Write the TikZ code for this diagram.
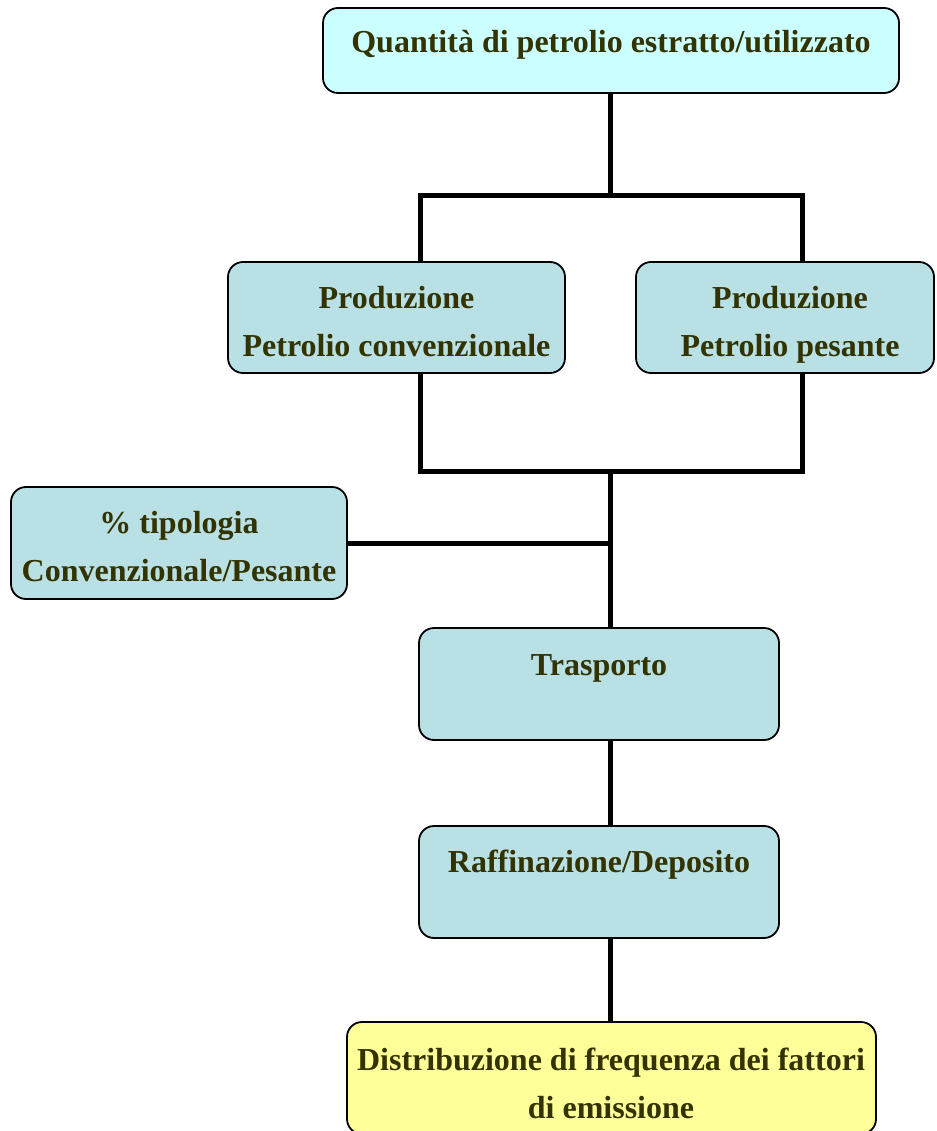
\documentclass[tikz,border=0pt]{standalone}
\usepackage{fontspec}
\setmainfont{Liberation Serif}
\definecolor{txtc}{RGB}{51,51,0}
\definecolor{cyanfill}{RGB}{204,255,255}
\definecolor{bluefill}{RGB}{185,224,228}
\definecolor{yelfill}{RGB}{255,255,153}
\begin{document}
\begin{tikzpicture}[x=1pt,y=1pt,
  box/.style={draw=black, line width=1.8pt, rounded corners=15pt, inner sep=0pt},
  lbl/.style={anchor=base, align=center, text=txtc, font=\fontsize{32}{48}\selectfont\bfseries, inner sep=0pt},
  conn/.style={line width=5pt, line join=miter}]
\useasboundingbox (0,0) rectangle (936,-1131);
\clip (0,0) rectangle (936,-1131);
\fill[white] (0,0) rectangle (936,-1131);
% boxes
\node[box, fill=cyanfill, minimum width=576pt, minimum height=85pt] (top) at (611,-50.5) {};
\node[box, fill=bluefill, minimum width=337pt, minimum height=111pt] (pc) at (396.5,-317.5) {};
\node[box, fill=bluefill, minimum width=298pt, minimum height=111pt] (pp) at (785,-317.5) {};
\node[box, fill=bluefill, minimum width=336pt, minimum height=112pt] (pt) at (179,-543) {};
\node[box, fill=bluefill, minimum width=360pt, minimum height=112pt] (tr) at (599,-684) {};
\node[box, fill=bluefill, minimum width=360pt, minimum height=112pt] (rf) at (599,-882) {};
\node[box, fill=yelfill, minimum width=529pt, minimum height=112pt] (di) at (611.5,-1078) {};
% texts (base anchor = baseline of last line)
\node[lbl] (topt) at (611,-53) {Quantità di petrolio estratto/utilizzato};
\node[lbl] (pct) at (396.5,-356) {Produzione\\Petrolio convenzionale};
\node[lbl] (ppt) at (790,-356) {Produzione\\Petrolio pesante};
\node[lbl] (ptt) at (179,-581) {\% tipologia\\Convenzionale/Pesante};
\node[lbl] (trt) at (599,-675) {Trasporto};
\node[lbl] (rft) at (599,-872) {Raffinazione/Deposito};
\node[lbl] (dit) at (611,-1118) {Distribuzione di frequenza dei fattori\\di emissione};
% junction coordinates
\coordinate (j1) at (610,-195.5);
\coordinate (a1) at (420.5,-195.5);
\coordinate (a2) at (802,-195.5);
\coordinate (b1) at (420.5,-471);
\coordinate (b2) at (802,-471);
\coordinate (j2) at (610,-471);
\coordinate (j3) at (610,-543);
% connectors
\draw[conn] (j1 |- top.south) -- (j1);
\draw[conn] (a1 |- pc.north) -- (a1) -- (a2) -- (a2 |- pp.north);
\draw[conn] (b1 |- pc.south) -- (b1) -- (b2) -- (b2 |- pp.south);
\draw[conn] (j2) -- (j2 |- tr.north);
\draw[conn] (pt.east |- j3) -- (j3);
\draw[conn] (j2 |- tr.south) -- (j2 |- rf.north);
\draw[conn] (j2 |- rf.south) -- (j2 |- di.north);
\end{tikzpicture}
\end{document}
